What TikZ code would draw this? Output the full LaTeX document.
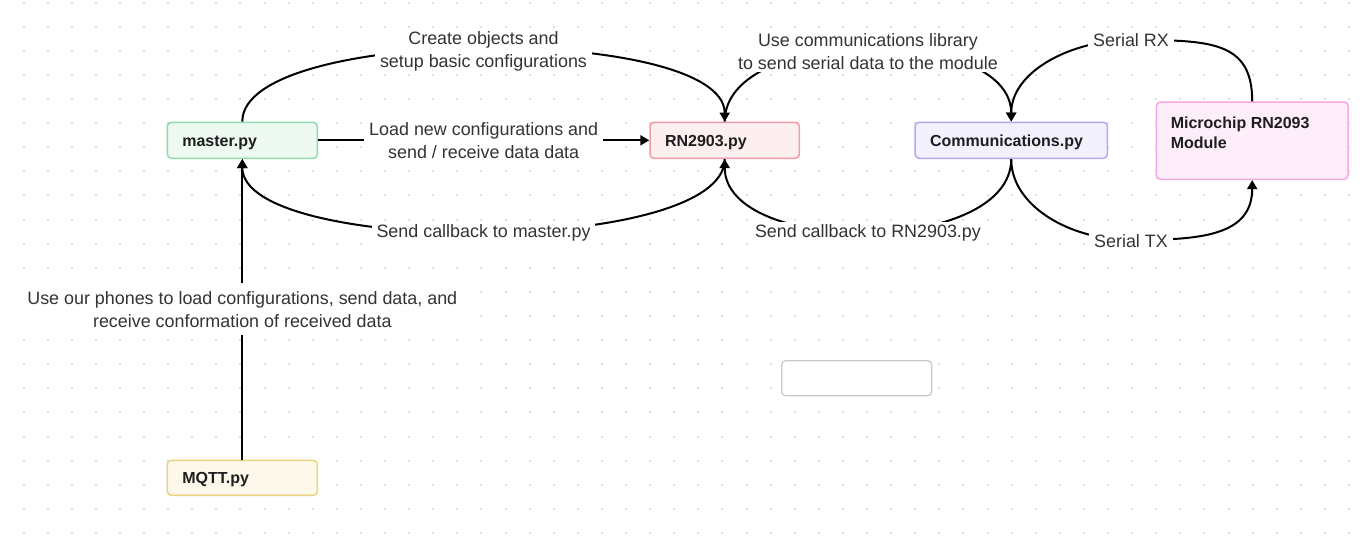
\documentclass[tikz,border=0pt]{standalone}
\usepackage{fontspec}
\setmainfont{Liberation Sans}
\usetikzlibrary{arrows.meta,calc}
\definecolor{dotc}{HTML}{DEDEDE}
\definecolor{gfill}{HTML}{EEF9F2}\definecolor{gline}{HTML}{8FDBAE}
\definecolor{rfill}{HTML}{FDEEF0}\definecolor{rline}{HTML}{F09CA7}
\definecolor{pfill}{HTML}{F3F1FD}\definecolor{pline}{HTML}{B6A8EF}
\definecolor{mfill}{HTML}{FDEEFA}\definecolor{mline}{HTML}{F8A8E6}
\definecolor{yfill}{HTML}{FDF8EA}\definecolor{yline}{HTML}{EDD27E}
\definecolor{ebox}{HTML}{C8C8C8}
\definecolor{txt}{HTML}{1E1E1E}
\definecolor{lbltxt}{HTML}{333333}
\tikzset{
  box/.style={draw, line width=1.5pt, rounded corners=4pt, minimum height=36pt,
    inner xsep=15pt, inner ysep=0pt, align=left, text=txt,
    font=\fontsize{16}{20}\selectfont\bfseries, text height=13pt, text depth=1pt},
  lbl/.style={fill=white, inner xsep=5pt, inner ysep=3pt, align=center, text=lbltxt,
    font=\fontsize{17.9}{23}\selectfont},
  conn/.style={line width=2pt, -{Triangle[length=9pt,width=10pt]}},
}
\begin{document}
\begin{tikzpicture}[x=1pt,y=-1pt]
\useasboundingbox[fill=white] (0,0) rectangle (1362,540);
% dot grid
\foreach \i in {0,...,55}{
  \foreach \j in {0,...,22}{
    \fill[dotc] ({23.5+24.1*\i-1},{2.7+24.1*\j-1}) rectangle ++(2,2);
  }
}
% nodes
\node[box, fill=gfill, draw=gline, text width=120pt] (master) at (242.3,140.3) {master.py};
\node[box, fill=rfill, draw=rline, text width=119.3pt] (rn) at (724.7,140.3) {RN2903.py};
\node[box, fill=pfill, draw=pline, text width=162.3pt] (comm) at (1011.2,140.3) {Communications.py};
\node[box, fill=yfill, draw=yline, text width=120pt, minimum height=35pt] (mqtt) at (242.3,477.8) {MQTT.py};
\node[draw=mline, fill=mfill, line width=1.5pt, rounded corners=4pt, minimum width=191.7pt,
      minimum height=77.3pt, inner sep=0pt] (micro) at (1252.2,140.7) {};
\node[anchor=north west, inner sep=0pt, align=left, text=txt,
      font=\fontsize{16}{20.5}\selectfont\bfseries] (microtxt) at ($(micro.north west)+(15,15)$)
      {Microchip RN2093\\Module};
\node[draw=ebox, fill=white, line width=1.2pt, rounded corners=4pt, minimum width=150pt,
      minimum height=35pt] (empty) at (856.7,378.2) {};
% connectors
\draw[conn] (master.north) .. controls +(0,-97) and +(0,-97) .. (rn.north)
  node[lbl, pos=0.5, yshift=-2.5pt] (l1) {Create objects and\\setup basic configurations};
\draw[conn] (master.east) -- (rn.west)
  node[lbl, midway] (l2) {Load new configurations and\\send / receive data data};
\draw[conn] (rn.south) .. controls +(0,97) and +(0,97) .. (master.south)
  node[lbl, pos=0.5, yshift=-1.5pt] (l3) {Send callback to master.py};
\draw[conn] (rn.north) .. controls +(0,-97) and +(0,-97) .. (comm.north)
  node[lbl, pos=0.5, yshift=-2.5pt] (l4) {Use communications library\\to send serial data to the module};
\draw[conn] (comm.south) .. controls +(0,97) and +(0,97) .. (rn.south)
  node[lbl, pos=0.5, yshift=-1.5pt] (l5) {Send callback to RN2903.py};
\coordinate (rx) at (1131,40);
\draw[conn] (micro.north) .. controls +(0,-60) and +(80,0) .. (rx)
  .. controls +(-60,0) and +(0,-50) .. (comm.north);
\node[lbl] (l6) at (rx) {Serial RX};
\coordinate (tx) at (1131,240);
\draw[conn] (comm.south) .. controls +(0,47) and +(-61,0) .. (tx)
  .. controls +(69,0) and +(0,56) .. (micro.south);
\node[lbl, yshift=-1pt] (l7) at (tx) {Serial TX};
\draw[conn] (mqtt.north) -- (master.south)
  node[lbl, midway, inner ysep=8pt] (l8) {Use our phones to load configurations, send data, and\\receive conformation of received data};
\end{tikzpicture}
\end{document}
